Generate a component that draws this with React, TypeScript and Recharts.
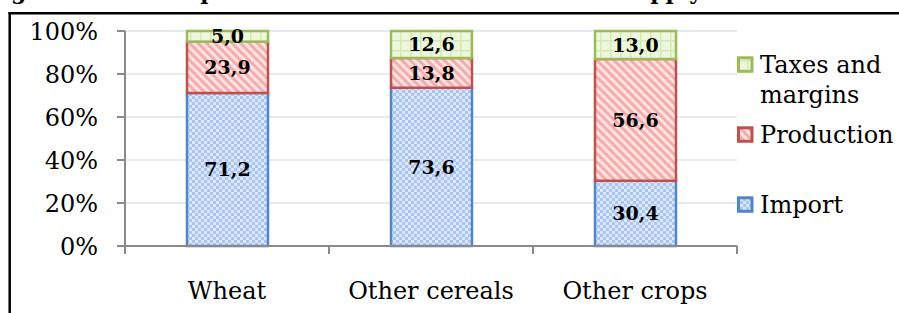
import React from 'react';
import { BarChart, Bar, XAxis, YAxis, CartesianGrid, LabelList, Legend } from 'recharts';

// ---- data ----
const categories = ['Wheat', 'Other cereals', 'Other crops'];
const importValues = [71.2, 73.6, 30.4];
const productionValues = [23.9, 13.8, 56.6];
const taxesValues = [5.0, 12.6, 13.0];
const seriesKeys = ['import', 'production', 'taxes'];
const seriesNames = ['Import', 'Production', 'Taxes and margins'];
const yTicks = [0, 0.2, 0.4, 0.6, 0.8, 1];
const titleParts = ['Figure 2. The', 'composition of resources for', 'the supply'];

const data = categories.map((name, i) => ({
  name,
  import: importValues[i],
  production: productionValues[i],
  taxes: taxesValues[i],
}));

// ---- styles ----
const W = 899;
const H = 313;
const FONT = '"DejaVu Serif", serif';
const AXIS = '#8a8a8a';
const LEGEND_W = 162;
const Y_AXIS_W = 125;
const strokes: Record<string, string> = { import: '#5385c9', production: '#c0504d', taxes: '#9bbb59' };
const fills: Record<string, string> = { import: 'url(#patImport)', production: 'url(#patProd)', taxes: 'url(#patTax)' };

const fmt = (v: any) => Number(v).toFixed(1).replace('.', ',');

const CategoryTick = (props: any) => {
  const { x, y, payload, index } = props;
  const count = props.visibleTicksCount || categories.length;
  const band = props.width ? props.width / count : (W - Y_AXIS_W - LEGEND_W) / count;
  return (
    <g>
      <line x1={x - band / 2} x2={x - band / 2} y1={y} y2={y + 8} stroke={AXIS} strokeWidth={2} />
      {index === count - 1 && (
        <line x1={x + band / 2} x2={x + band / 2} y1={y} y2={y + 8} stroke={AXIS} strokeWidth={2} />
      )}
      <text x={x} y={y + 53} textAnchor="middle" fontFamily={FONT} fontSize={24} fill="#000">
        {payload.value}
      </text>
    </g>
  );
};

const wrapWords = (s: string, maxChars: number) => {
  const words = s.split(' ');
  const lines: string[] = [];
  let cur = '';
  for (const w of words) {
    const next = cur ? cur + ' ' + w : w;
    if (next.length > maxChars && cur) {
      lines.push(cur);
      cur = w;
    } else cur = next;
  }
  if (cur) lines.push(cur);
  return lines;
};

const LegendContent = (props: any) => {
  const payload = [...(props.payload || [])].reverse();
  return (
    <svg width={LEGEND_W} height={H} style={{ display: 'block' }}>
      {payload.map((p: any, i: number) => {
        const key = p.dataKey as string;
        const base = 73.3 + 70 * i;
        const lines = wrapWords(String(p.value), 10);
        return (
          <g key={key}>
            <rect x={1.5} y={base - 15.5} width={13.5} height={13.5} fill={fills[key]} stroke={strokes[key]} strokeWidth={3} />
            <text x={23} y={base} fontFamily={FONT} fontSize={24} fill="#000">
              {lines.map((l, j) => (
                <tspan key={j} x={23} dy={j === 0 ? 0 : 30}>
                  {l}
                </tspan>
              ))}
            </text>
          </g>
        );
      })}
    </svg>
  );
};

export default function App() {
  return (
    <div style={{ position: 'absolute', left: 0, top: 0, width: W, height: H, overflow: 'hidden', background: '#fff' }}>
      <svg width={0} height={0} style={{ position: 'absolute' }}>
        <defs>
          <pattern id="patImport" patternUnits="userSpaceOnUse" width={6} height={6}>
            <rect width={6} height={6} fill="#dbe7fc" />
            <rect x={0} y={0} width={3} height={3} fill="#a9c5f5" />
            <rect x={3} y={3} width={3} height={3} fill="#a9c5f5" />
          </pattern>
          <pattern id="patProd" patternUnits="userSpaceOnUse" width={6} height={6} patternTransform="rotate(-45)">
            <rect width={6} height={6} fill="#fde3e3" />
            <rect x={0} y={0} width={3} height={6} fill="#f6acab" />
          </pattern>
          <pattern id="patTax" patternUnits="userSpaceOnUse" width={10} height={10}>
            <rect width={10} height={10} fill="#eef7de" />
            <rect x={0} y={0} width={10} height={1.5} fill="#d5e9b2" />
            <rect x={0} y={0} width={1.5} height={10} fill="#d5e9b2" />
          </pattern>
        </defs>
      </svg>
      <BarChart
        width={W}
        height={H}
        data={data}
        stackOffset="expand"
        margin={{ top: 31, right: 0, left: 0, bottom: 0 }}
      >
        <CartesianGrid vertical={false} stroke="#dde4ef" strokeWidth={1.5} />
        <XAxis
          dataKey="name"
          height={67}
          tickLine={false}
          tickSize={0}
          tickMargin={0}
          axisLine={{ stroke: AXIS, strokeWidth: 2 }}
          tick={<CategoryTick />}
          interval={0}
        />
        <YAxis
          width={Y_AXIS_W}
          domain={[0, 1]}
          ticks={yTicks}
          tickFormatter={(v: number) => `${Math.round(v * 100)}%`}
          tickSize={8}
          tickMargin={19}
          axisLine={{ stroke: AXIS, strokeWidth: 2 }}
          tickLine={{ stroke: AXIS, strokeWidth: 2 }}
          tick={{ fill: '#000', fontFamily: FONT, fontSize: 24 }}
        />
        <Legend
          layout="vertical"
          align="right"
          verticalAlign="top"
          content={<LegendContent />}
          wrapperStyle={{ top: 0, right: 0, width: LEGEND_W, height: H }}
        />
        {seriesKeys.map((k, i) => (
          <Bar
            key={k}
            dataKey={k}
            name={seriesNames[i]}
            stackId="s"
            fill={fills[k]}
            stroke={strokes[k]}
            strokeWidth={2.5}
            barSize={81}
            isAnimationActive={false}
          >
            <LabelList
              dataKey={k}
              position="center"
              formatter={fmt}
              fill="#000"
              fontFamily={FONT}
              fontWeight="bold"
              fontSize={19}
            />
          </Bar>
        ))}
      </BarChart>
      <svg width={W} height={H} style={{ position: 'absolute', left: 0, top: 0, pointerEvents: 'none' }}>
        <text y={-1} fontFamily={FONT} fontWeight="bold" fontSize={22} fill="#000">
          <tspan x={-13}>{titleParts[0]}</tspan>
          <tspan x={149}>{titleParts[1]}</tspan>
          <tspan x={574}>{titleParts[2]}</tspan>
        </text>
        <line x1={8.5} x2={W} y1={13.3} y2={13.3} stroke="#000" strokeWidth={2.5} />
        <line x1={9.7} x2={9.7} y1={12} y2={H} stroke="#000" strokeWidth={2.5} />
      </svg>
    </div>
  );
}
